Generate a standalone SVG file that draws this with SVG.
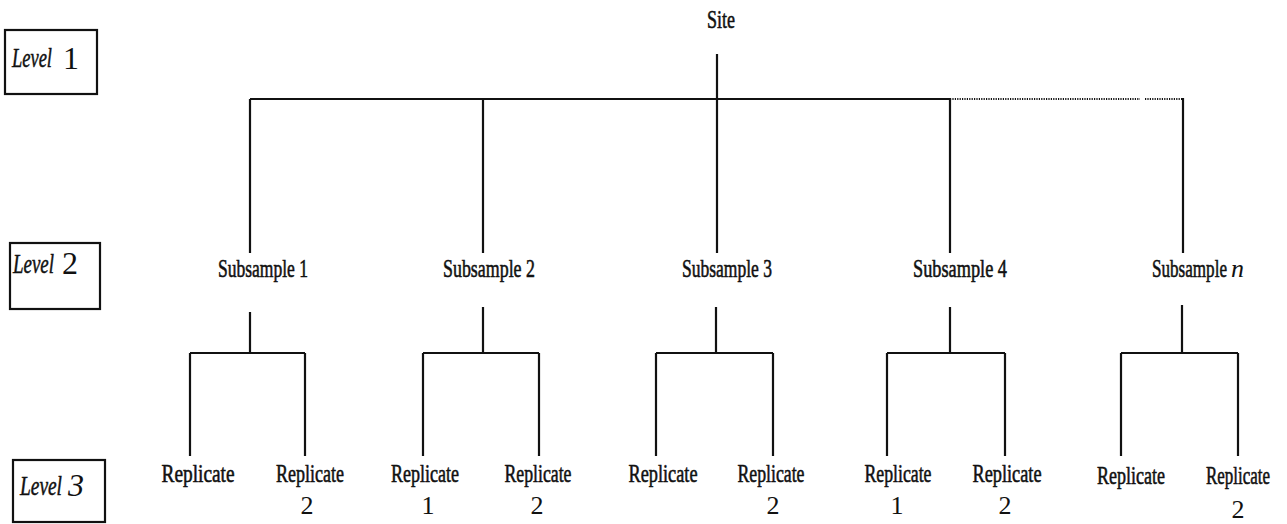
<svg xmlns="http://www.w3.org/2000/svg" width="1287" height="524" viewBox="0 0 1287 524">
<style>
.t{font-family:"Liberation Serif","Times New Roman",serif;font-size:26px;fill:#111;stroke:#111;stroke-width:0.6;}
.num{font-family:"Liberation Serif","Times New Roman",serif;font-size:26px;fill:#111;}
.lv{font-family:"Liberation Serif","Times New Roman",serif;font-size:28px;font-style:italic;fill:#111;stroke:#111;stroke-width:0.5;}
.dg{font-family:"Liberation Serif","Times New Roman",serif;font-size:32px;fill:#111;}
.box{fill:none;stroke:#111;stroke-width:2.2;}
.ln{fill:none;stroke:#111;stroke-width:2.2;}
.dot{fill:none;stroke:#111;stroke-width:2.2;stroke-dasharray:1.2 1.2;}
</style>
<rect width="1287" height="524" fill="#fff"/>

<g id="level1">
<rect class="box" x="5" y="30" width="92" height="64"/>
<text class="lv" x="12" y="67" textLength="40" lengthAdjust="spacingAndGlyphs">Level</text>
<text class="dg" x="63" y="69">1</text>
</g>
<g id="level2">
<rect class="box" x="10" y="243" width="90" height="66"/>
<text class="lv" x="13" y="273" textLength="41" lengthAdjust="spacingAndGlyphs">Level</text>
<text class="dg" x="62" y="274">2</text>
</g>
<g id="level3">
<rect class="box" x="13" y="460" width="92" height="62"/>
<text class="lv" x="20" y="495" textLength="42" lengthAdjust="spacingAndGlyphs">Level</text>
<text class="dg" x="68" y="496" font-style="italic" textLength="16" lengthAdjust="spacingAndGlyphs">3</text>
</g>

<g id="site">
<text class="t" x="721" y="28" text-anchor="middle" textLength="28" lengthAdjust="spacingAndGlyphs">Site</text>
</g>

<g id="subsample1"><text class="t" x="218" y="277" textLength="90" lengthAdjust="spacingAndGlyphs">Subsample 1</text></g>
<g id="subsample2"><text class="t" x="443" y="277" textLength="92" lengthAdjust="spacingAndGlyphs">Subsample 2</text></g>
<g id="subsample3"><text class="t" x="682" y="277" textLength="90" lengthAdjust="spacingAndGlyphs">Subsample 3</text></g>
<g id="subsample4"><text class="t" x="913" y="277" textLength="94" lengthAdjust="spacingAndGlyphs">Subsample 4</text></g>
<g id="subsamplen"><text class="t" x="1152" y="277" textLength="75" lengthAdjust="spacingAndGlyphs">Subsample</text><text class="num" x="1231" y="277" font-style="italic">n</text></g>

<g id="rep1-1"><text class="t" x="198" y="482" text-anchor="middle" textLength="73" lengthAdjust="spacingAndGlyphs">Replicate</text></g>
<g id="rep1-2"><text class="t" x="310" y="482" text-anchor="middle" textLength="68" lengthAdjust="spacingAndGlyphs">Replicate</text><text class="num" x="307" y="514" text-anchor="middle">2</text></g>
<g id="rep2-1"><text class="t" x="425" y="482" text-anchor="middle" textLength="68" lengthAdjust="spacingAndGlyphs">Replicate</text><text class="num" x="428" y="514" text-anchor="middle">1</text></g>
<g id="rep2-2"><text class="t" x="538" y="482" text-anchor="middle" textLength="67" lengthAdjust="spacingAndGlyphs">Replicate</text><text class="num" x="537" y="514" text-anchor="middle">2</text></g>
<g id="rep3-1"><text class="t" x="663" y="482" text-anchor="middle" textLength="69" lengthAdjust="spacingAndGlyphs">Replicate</text></g>
<g id="rep3-2"><text class="t" x="771" y="482" text-anchor="middle" textLength="67" lengthAdjust="spacingAndGlyphs">Replicate</text><text class="num" x="773" y="514" text-anchor="middle">2</text></g>
<g id="rep4-1"><text class="t" x="898" y="482" text-anchor="middle" textLength="67" lengthAdjust="spacingAndGlyphs">Replicate</text><text class="num" x="897" y="514" text-anchor="middle">1</text></g>
<g id="rep4-2"><text class="t" x="1007" y="482" text-anchor="middle" textLength="69" lengthAdjust="spacingAndGlyphs">Replicate</text><text class="num" x="1005" y="514" text-anchor="middle">2</text></g>
<g id="repn-1"><text class="t" x="1131" y="484" text-anchor="middle" textLength="68" lengthAdjust="spacingAndGlyphs">Replicate</text></g>
<g id="repn-2"><text class="t" x="1238" y="484" text-anchor="middle" textLength="64" lengthAdjust="spacingAndGlyphs">Replicate</text><text class="num" x="1238" y="518" text-anchor="middle">2</text></g>

<g id="connectors">
<path class="ln" d="M717 54V253 M250 99H950 M250 99V253 M483 99V253 M950 99V253"/>
<path class="dot" d="M950 99H1140 M1145 99H1183"/>
<path class="ln" d="M1183 98V253"/>
<path class="ln" d="M250 312V353 M190 353H305 M190 353V456 M305 353V456"/>
<path class="ln" d="M483 307V353 M423 353H539 M423 353V456 M539 353V456"/>
<path class="ln" d="M716 307V353 M656 353H773 M656 353V456 M773 353V456"/>
<path class="ln" d="M950 307V353 M887 353H1005 M887 353V456 M1005 353V456"/>
<path class="ln" d="M1182 305V353 M1121 353H1238 M1121 353V456 M1238 353V456"/>
</g>
</svg>
